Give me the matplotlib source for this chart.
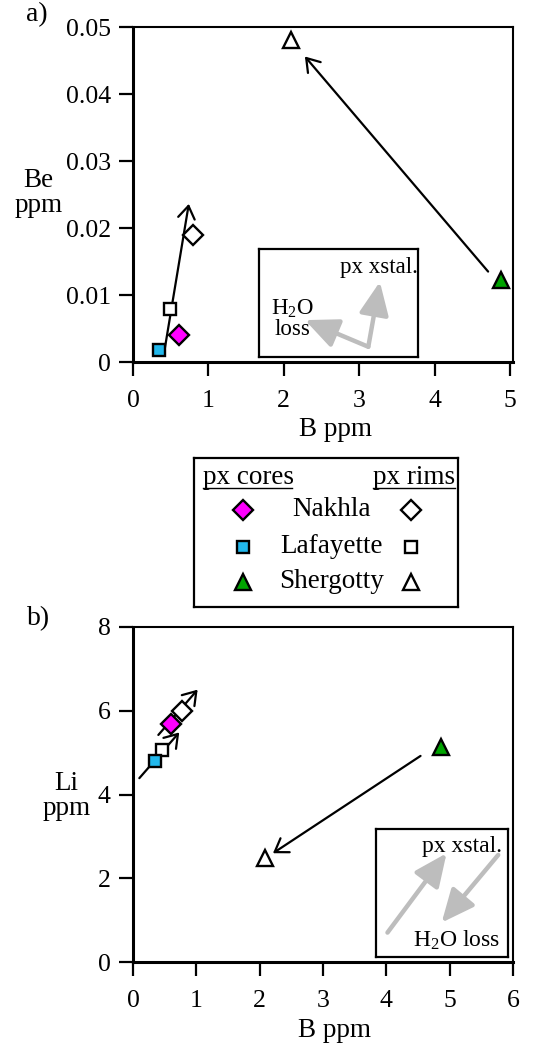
import matplotlib
matplotlib.use("Agg")
import matplotlib.pyplot as plt

plt.rcParams['font.family'] = ['Liberation Serif', 'DejaVu Serif']
plt.rcParams['mathtext.fontset'] = 'custom'
plt.rcParams['mathtext.rm'] = 'Liberation Serif'
plt.rcParams['mathtext.it'] = 'Liberation Serif:italic'

samples = ["Nakhla", "Lafayette", "Shergotty"]
markers = ["D", "s", "^"]
core_colors = ["#ff00ff", "#22b8ec", "#00a400"]

# B ppm / Be ppm / Li ppm, cores and rims
b_core = [0.61, 0.35, 4.88]
b_rim = [0.79, 0.49, 2.10]
be_core = [0.0040, 0.0018, 0.0122]
be_rim = [0.0190, 0.0079, 0.0480]
b_core_li = [0.60, 0.34, 4.87]
b_rim_li = [0.77, 0.45, 2.08]
li_core = [5.67, 4.80, 5.14]
li_rim = [5.98, 5.06, 2.48]

# trend arrows (start, tip) in data units
be_arrows = [((0.42, 0.0019), (0.74, 0.0236)),
             ((4.71, 0.0135), (2.28, 0.0456))]
li_arrows = [((0.10, 4.39), (0.73, 5.48)),
             ((0.40, 5.42), (1.02, 6.50)),
             ((4.54, 4.92), (2.21, 2.60))]

fs_tick = 18.5
fs = 19.5
ms = {"D": 10, "s": 8.5, "^": 11}


def style_axes(ax):
    for s in ["left", "bottom"]:
        ax.spines[s].set_linewidth(2.2)
    for s in ["top", "right"]:
        ax.spines[s].set_linewidth(1.5)
    ax.tick_params(direction="out", length=10, width=1.6, labelsize=fs_tick)
    ax.tick_params(axis="x", pad=10)
    ax.tick_params(axis="y", pad=6)


def draw_points(ax, xc, yc, xr, yr):
    for i in range(len(samples)):
        m = markers[i]
        ax.plot(xr[i], yr[i], m, ms=ms[m], mfc="white", mec="black", mew=1.7,
                zorder=4, clip_on=False)
        ax.plot(xc[i], yc[i], m, ms=ms[m], mfc=core_colors[i], mec="black",
                mew=1.7, zorder=4, clip_on=False)


def black_arrow(ax, start, tip):
    ax.annotate("", xy=tip, xytext=start,
                arrowprops=dict(arrowstyle="->,head_length=0.6,head_width=0.4",
                                lw=1.6, color="black", shrinkA=0, shrinkB=0,
                                mutation_scale=15), zorder=3)


def gray_arrow(ax, start, tip):
    ax.annotate("", xy=tip, xytext=start, xycoords="axes fraction",
                textcoords="axes fraction",
                arrowprops=dict(arrowstyle="-|>,head_length=1.0,head_width=0.45",
                                lw=3.2, color="#bdbdbd", shrinkA=0, shrinkB=0,
                                mutation_scale=20))


fig = plt.figure(figsize=(5.37, 10.43), dpi=100)

# ---- panel a
ax1 = fig.add_axes([0.2477, 0.6529, 0.7076, 0.3212])
for start, tip in be_arrows:
    black_arrow(ax1, start, tip)
draw_points(ax1, b_core, be_core, b_rim, be_rim)
ax1.set_xlim(0, 5.04)
ax1.set_ylim(0, 0.05)
ax1.set_xticks([0, 1, 2, 3, 4, 5])
ax1.set_yticks([0, 0.01, 0.02, 0.03, 0.04, 0.05])
ax1.set_yticklabels(["0", "0.01", "0.02", "0.03", "0.04", "0.05"])
style_axes(ax1)
ax1.set_xlabel("B ppm", fontsize=fs, va="center")
ax1.xaxis.set_label_coords(0.534, -0.2)
ax1.set_ylabel("Be\nppm", fontsize=fs, rotation=0, ha="center", va="center",
               linespacing=1.0)
ax1.yaxis.set_label_coords(-0.249, 0.506)

ins1 = ax1.inset_axes([0.3316, 0.014, 0.4174, 0.322])
ins1.set_xticks([])
ins1.set_yticks([])
for s in ins1.spines.values():
    s.set_linewidth(1.6)
gray_arrow(ins1, (0.689, 0.098), (0.762, 0.70))
gray_arrow(ins1, (0.689, 0.098), (0.29, 0.345))
ins1.text(0.51, 0.83, "px xstal.", fontsize=16.5, ha="left", va="center",
          transform=ins1.transAxes)
ins1.text(0.21, 0.36, "H$_2$O\nloss", fontsize=16.5, ha="center", va="center",
          linespacing=0.95, transform=ins1.transAxes)

# ---- legend
axl = fig.add_axes([0.3613, 0.418, 0.4916, 0.1429])
axl.set_xlim(0, 1)
axl.set_ylim(0, 1)
axl.set_xticks([])
axl.set_yticks([])
for s in axl.spines.values():
    s.set_linewidth(1.6)
axl.text(0.033, 0.866, "px cores", fontsize=fs, ha="left", va="center")
axl.text(0.989, 0.866, "px rims", fontsize=fs, ha="right", va="center")
axl.plot([0.033, 0.37], [0.797, 0.797], color="black", lw=1.0)
axl.plot([0.679, 0.989], [0.797, 0.797], color="black", lw=1.0)
rows = [0.651, 0.405, 0.17]
for i, name in enumerate(samples):
    m = markers[i]
    axl.plot(0.184, rows[i], m, ms=ms[m], mfc=core_colors[i], mec="black", mew=1.7)
    axl.plot(0.822, rows[i], m, ms=ms[m], mfc="white", mec="black", mew=1.7)
    axl.text(0.52, rows[i], name, fontsize=fs, ha="center", va="center")

# ---- panel b
ax2 = fig.add_axes([0.2477, 0.0774, 0.7076, 0.3217])
for start, tip in li_arrows:
    black_arrow(ax2, start, tip)
draw_points(ax2, b_core_li, li_core, b_rim_li, li_rim)
ax2.set_xlim(0, 6)
ax2.set_ylim(0, 8)
ax2.set_xticks([0, 1, 2, 3, 4, 5, 6])
ax2.set_yticks([0, 2, 4, 6, 8])
style_axes(ax2)
ax2.set_xlabel("B ppm", fontsize=fs, va="center")
ax2.xaxis.set_label_coords(0.53, -0.202)
ax2.set_ylabel("Li\nppm", fontsize=fs, rotation=0, ha="center", va="center",
               linespacing=1.0)
ax2.yaxis.set_label_coords(-0.175, 0.4955)

ins2 = ax2.inset_axes([0.639, 0.017, 0.3486, 0.381])
ins2.set_xticks([])
ins2.set_yticks([])
for s in ins2.spines.values():
    s.set_linewidth(1.6)
gray_arrow(ins2, (0.088, 0.1875), (0.534, 0.808))
gray_arrow(ins2, (0.924, 0.795), (0.497, 0.266))
ins2.text(0.95, 0.86, "px xstal.", fontsize=17, ha="right", va="center",
          transform=ins2.transAxes)
ins2.text(0.937, 0.13, "H$_2$O loss", fontsize=17, ha="right", va="center",
          transform=ins2.transAxes)

fig.text(0.068, 0.9856, "a)", fontsize=20, ha="center", va="center")
fig.text(0.0714, 0.4072, "b)", fontsize=20, ha="center", va="center")

fig.savefig("out.png", dpi=100)
